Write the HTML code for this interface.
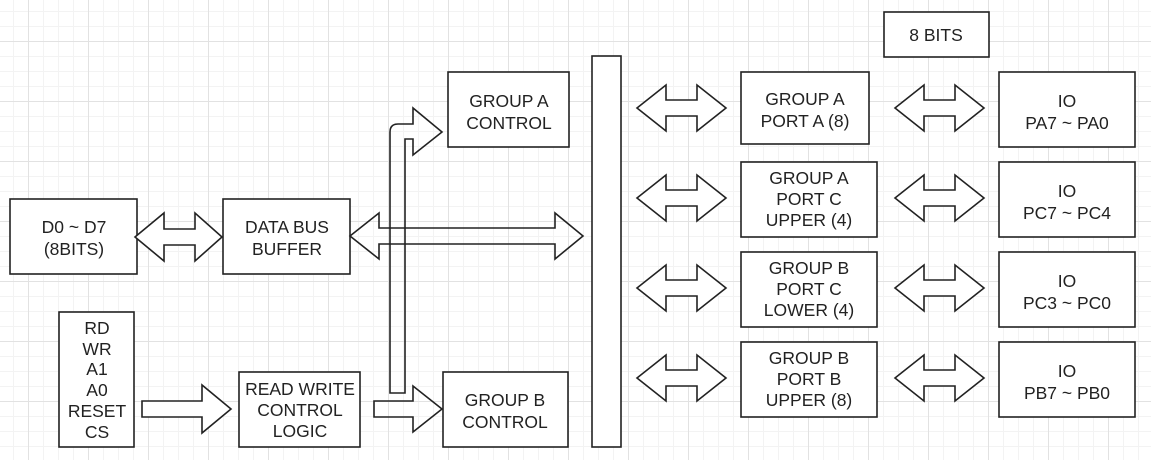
<!DOCTYPE html>
<html><head><meta charset="utf-8"><style>
html,body{margin:0;padding:0;background:#fff;}
svg{display:block;}
text{font-family:"Liberation Sans",Arial,sans-serif;font-size:17.5px;fill:#222;text-anchor:middle;}
</style></head><body>
<svg width="1151" height="460" viewBox="0 0 1151 460" xmlns="http://www.w3.org/2000/svg">
<defs>
<pattern id="minor" x="13" y="11" width="15" height="15" patternUnits="userSpaceOnUse">
<path d="M0.5,0 V15 M0,0.5 H15" stroke="#f3f3f3" stroke-width="1" fill="none"/>
</pattern>
<pattern id="major" x="28" y="41" width="60" height="60" patternUnits="userSpaceOnUse">
<path d="M0.5,0 V60 M0,0.5 H60" stroke="#e2e2e2" stroke-width="1" fill="none"/>
</pattern>
</defs>
<rect width="1151" height="460" fill="#fff"/>
<rect width="1151" height="460" fill="url(#minor)"/>
<rect width="1151" height="460" fill="url(#major)"/>

<g fill="#fff" stroke="#222" stroke-width="1.6">
<rect x="10" y="199" width="127" height="75"/>
<rect x="223" y="199" width="127" height="75"/>
<rect x="59" y="312" width="75" height="135"/>
<rect x="239" y="372" width="121" height="75"/>
<rect x="448" y="72" width="121" height="75"/>
<rect x="443" y="372" width="125" height="75"/>
<rect x="592" y="56" width="29" height="391"/>
<rect x="884" y="12" width="105" height="45"/>
<rect x="741" y="72" width="128" height="72"/>
<rect x="741" y="162" width="136" height="75"/>
<rect x="741" y="252" width="136" height="75"/>
<rect x="741" y="342" width="136" height="75"/>
<rect x="999" y="72" width="136" height="75"/>
<rect x="999" y="162" width="136" height="75"/>
<rect x="999" y="252" width="136" height="75"/>
<rect x="999" y="342" width="136" height="75"/>
</g>

<g fill="none" stroke="#222" stroke-width="1.6" stroke-linejoin="miter">
<polygon points="135,237 164,213 164,229 195,229 195,213 222,237 195,261 195,245 164,245 164,261" fill="#fff"/>
<polygon points="350,236 379,213 379,228 555,228 555,213 583,236 555,259 555,244 379,244 379,259"/>
<path d="M390,393 L390,132 Q390,124 398,124 L413,124 L413,108 L442,132 L413,155 L413,139 L405,139 L405,393 Z"/>
<polygon points="374,401 413,401 413,386 442,409 413,432 413,417 374,417"/>
<polygon points="142,401 202,401 202,385 231,409 202,433 202,417 142,417" fill="#fff"/>
<g fill="#fff">
<polygon points="637,108 666,85 666,100 697,100 697,85 726,108 697,131 697,116 666,116 666,131"/>
<polygon points="637,198 666,175 666,190 697,190 697,175 726,198 697,221 697,206 666,206 666,221"/>
<polygon points="637,288 666,265 666,280 697,280 697,265 726,288 697,311 697,296 666,296 666,311"/>
<polygon points="637,378 666,355 666,370 697,370 697,355 726,378 697,401 697,386 666,386 666,401"/>
<polygon points="895,108 924,85 924,100 955,100 955,85 984,108 955,131 955,116 924,116 924,131"/>
<polygon points="895,198 924,175 924,190 955,190 955,175 984,198 955,221 955,206 924,206 924,221"/>
<polygon points="895,288 924,265 924,280 955,280 955,265 984,288 955,311 955,296 924,296 924,311"/>
<polygon points="895,378 924,355 924,370 955,370 955,355 984,378 955,401 955,386 924,386 924,401"/>
</g>
</g>

<text x="74" y="233">D0 ~ D7</text>
<text x="74" y="255">(8BITS)</text>
<text x="287" y="233">DATA BUS</text>
<text x="287" y="255">BUFFER</text>
<text x="97" y="334">RD</text>
<text x="97" y="355">WR</text>
<text x="97" y="375">A1</text>
<text x="97" y="396">A0</text>
<text x="97" y="417">RESET</text>
<text x="97" y="438">CS</text>
<text x="300" y="395">READ WRITE</text>
<text x="300" y="416">CONTROL</text>
<text x="300" y="437">LOGIC</text>
<text x="509" y="107">GROUP A</text>
<text x="509" y="129">CONTROL</text>
<text x="505" y="406">GROUP B</text>
<text x="505" y="428">CONTROL</text>
<text x="936" y="41">8 BITS</text>
<text x="805" y="105">GROUP A</text>
<text x="805" y="127">PORT A (8)</text>
<text x="809" y="184">GROUP A</text>
<text x="809" y="205">PORT C</text>
<text x="809" y="226">UPPER (4)</text>
<text x="809" y="274">GROUP B</text>
<text x="809" y="295">PORT C</text>
<text x="809" y="316">LOWER (4)</text>
<text x="809" y="364">GROUP B</text>
<text x="809" y="385">PORT B</text>
<text x="809" y="406">UPPER (8)</text>
<text x="1067" y="107">IO</text>
<text x="1067" y="129">PA7 ~ PA0</text>
<text x="1067" y="197">IO</text>
<text x="1067" y="219">PC7 ~ PC4</text>
<text x="1067" y="287">IO</text>
<text x="1067" y="309">PC3 ~ PC0</text>
<text x="1067" y="377">IO</text>
<text x="1067" y="399">PB7 ~ PB0</text>
</svg>
</body></html>
